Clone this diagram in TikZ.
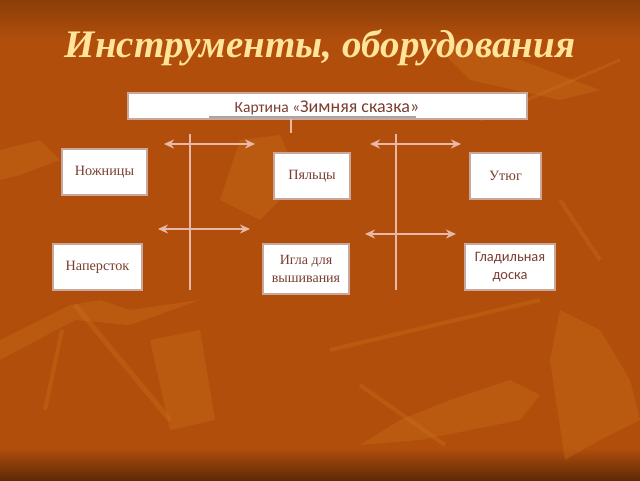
\documentclass[tikz,border=0pt]{standalone}
\usepackage{fontspec}
\setmainfont{Liberation Serif}
\newfontfamily\carl{Carlito}
\usetikzlibrary{arrows.meta}
\definecolor{bgmain}{HTML}{B24E0C}
\definecolor{bgdark}{HTML}{5E2A06}
\definecolor{bgtop}{HTML}{8A3E08}
\definecolor{leaf}{HTML}{D07A1E}
\definecolor{titlecol}{HTML}{FFE49A}
\definecolor{boxtext}{HTML}{7A3D30}
\definecolor{linecol}{HTML}{E8B8A8}
\definecolor{boxedge}{HTML}{C9A79B}
\tikzset{
  item/.style={draw=boxedge, line width=1.2pt, fill=white, text=boxtext, align=center, inner sep=0pt},
  conn/.style={draw=linecol, line width=1.8pt},
  harrow/.style={draw=linecol, line width=1.8pt, {Stealth[length=10pt,width=9pt]}-{Stealth[length=10pt,width=9pt]}}
}
\begin{document}
\begin{tikzpicture}[x=1pt,y=-1pt]
\useasboundingbox (0,0) rectangle (640,480);
% background
\fill[bgmain] (0,0) rectangle (640,480);
\shade[top color=bgtop, bottom color=bgmain] (0,0) rectangle (640,40);
\shade[top color=bgmain, bottom color=bgdark] (0,448) rectangle (640,480);
% faint leaves
\begin{scope}[leaf, opacity=0.28]
\fill (0,340) -- (70,305) -- (100,300) -- (130,310) -- (200,300) -- (130,325) -- (75,320) -- (0,360) -- cycle;
\draw[line width=5pt] (75,305) -- (170,420);
\draw[line width=4pt] (62,330) -- (45,410);
\fill (150,340) -- (200,330) -- (215,420) -- (170,430) -- cycle;
\fill (360,445) -- (400,420) -- (450,400) -- (510,380) -- (540,395) -- (520,420) -- (470,430) -- (420,440) -- cycle;
\draw[line width=4pt] (360,385) -- (445,445);
\draw[line width=4pt] (330,350) -- (540,300);
\fill (560,310) -- (600,330) -- (630,380) -- (640,420) -- (600,440) -- (565,460) -- (550,360) -- cycle;
\draw[line width=4pt] (560,200) -- (600,260);
\fill (0,150) -- (40,140) -- (60,160) -- (20,175) -- (0,180) -- cycle;
\fill (430,40) -- (520,60) -- (600,90) -- (560,100) -- (470,80) -- cycle;
\fill (240,140) -- (280,135) -- (300,180) -- (260,220) -- (220,200) -- cycle;
\draw[line width=3pt] (480,120) -- (620,60);
\end{scope}
% title
\node[text=titlecol, font=\fontsize{39}{44}\selectfont\bfseries\itshape] (title) at (320,48) {Инструменты, оборудования};
% top box
\node[item, minimum width=399pt, minimum height=26pt] (top) at (327.5,106) {};
\node[text=boxtext, font=\carl, anchor=base] (toptext) at (327,112.5) {\fontsize{15.5}{18}\selectfont Картина «\fontsize{18}{20}\selectfont Зимняя сказка»};
\draw[draw=gray!70, line width=2pt] (209,116.5) -- (416,116.5);
% boxes
\node[item, minimum width=85pt, minimum height=46pt, font=\fontsize{14.2}{16}\selectfont] (noz) at (104.5,172) {Ножницы};
\node[item, minimum width=76pt, minimum height=46pt, font=\fontsize{14.2}{16}\selectfont] (pal) at (312,176) {Пяльцы};
\node[item, minimum width=71pt, minimum height=46pt, font=\fontsize{14.2}{16}\selectfont] (utg) at (505.5,176) {Утюг};
\node[item, minimum width=89pt, minimum height=46pt, font=\fontsize{14.2}{16}\selectfont] (nap) at (97.5,267) {Наперсток};
\node[item, minimum width=86pt, minimum height=50pt, font=\fontsize{14}{18}\selectfont] (igl) at (306,269) {Игла для\\вышивания};
\node[item, minimum width=90pt, minimum height=46pt, font=\carl\fontsize{14.4}{18}\selectfont] (gld) at (510,267) {Гладильная\\доска};
% connectors
\coordinate (stubtop) at (291,119);
\coordinate (stubbot) at (291,133);
\draw[conn] (stubtop) -- (stubbot);
\coordinate (v1a) at (190,134);
\coordinate (v1b) at (190,290);
\coordinate (v2a) at (396,134);
\coordinate (v2b) at (396,290);
\draw[conn] (v1a) -- (v1b);
\draw[conn] (v2a) -- (v2b);
\coordinate (h1a) at (164,144); \coordinate (h1b) at (255,144);
\coordinate (h2a) at (158,229); \coordinate (h2b) at (250,229);
\coordinate (h3a) at (370,144); \coordinate (h3b) at (461,144);
\coordinate (h4a) at (365,234); \coordinate (h4b) at (456,234);
\draw[harrow] (h1a) -- (h1b);
\draw[harrow] (h2a) -- (h2b);
\draw[harrow] (h3a) -- (h3b);
\draw[harrow] (h4a) -- (h4b);
\end{tikzpicture}
\end{document}
